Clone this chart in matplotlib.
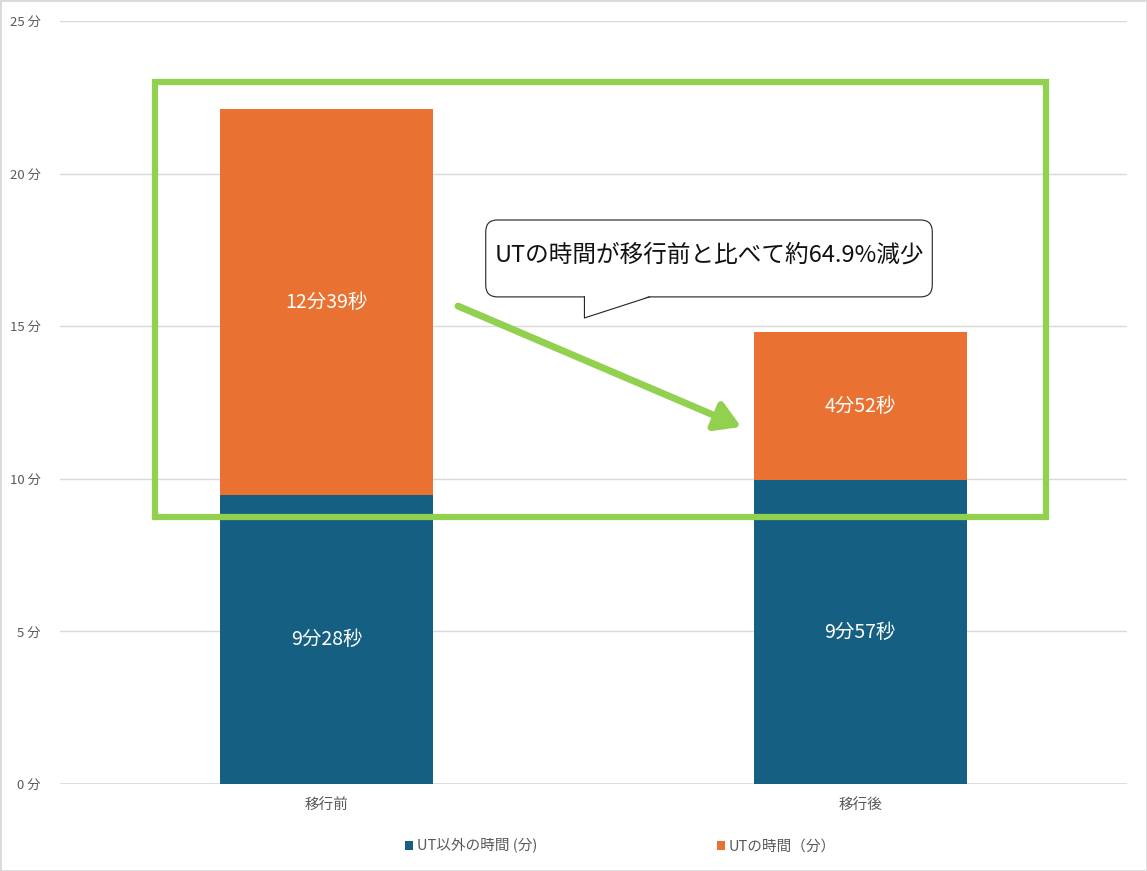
import matplotlib
matplotlib.use("Agg")
import matplotlib.pyplot as plt
from matplotlib.patches import Rectangle, FancyBboxPatch, Polygon
from matplotlib.lines import Line2D

plt.rcParams['font.family'] = ['Noto Sans CJK JP', 'DejaVu Sans']

categories = ["移行前", "移行後"]
non_ut = [9 + 28/60, 9 + 57/60]
ut = [12 + 39/60, 4 + 52/60]
non_ut_labels = ["9分28秒", "9分57秒"]
ut_labels = ["12分39秒", "4分52秒"]
yticks = [0, 5, 10, 15, 20, 25]
ytick_labels = ["0 分", "5 分", "10 分", "15 分", "20 分", "25 分"]
legend_labels = ["UT以外の時間 (分)", "UTの時間（分）"]
callout_text = "UTの時間が移行前と比べて約64.9%減少"

BLUE = "#156082"
ORANGE = "#E97132"
GREEN = "#92D050"
GRAY = "#595959"

fig = plt.figure(figsize=(11.47, 8.71), dpi=100)
ax = fig.add_axes([60/1147, 87/871, 1067/1147, 763/871])

x = list(range(len(categories)))
b1 = ax.bar(x, non_ut, width=0.4, color=BLUE, zorder=2, label=legend_labels[0])
b2 = ax.bar(x, ut, width=0.4, bottom=non_ut, color=ORANGE, zorder=2, label=legend_labels[1])

for i in x:
    ax.text(i, non_ut[i] / 2, non_ut_labels[i], ha="center", va="center",
            color="white", fontsize=14, zorder=3)
    ax.text(i, non_ut[i] + ut[i] / 2, ut_labels[i], ha="center", va="center",
            color="white", fontsize=14, zorder=3)

ax.set_xlim(-0.5, 1.5)
ax.set_ylim(0, 25)
ax.set_yticks(yticks)
ax.set_yticklabels(ytick_labels, color=GRAY, fontsize=9.5)
ax.set_xticks(x)
ax.set_xticklabels(categories, color=GRAY, fontsize=10.5)
ax.tick_params(length=0, pad=14)
ax.tick_params(axis="x", pad=10)
ax.grid(axis="y", color="#D9D9D9", linewidth=1, zorder=0)
ax.set_axisbelow(True)
for s in ax.spines.values():
    s.set_visible(False)
ax.axhline(0, color="#D9D9D9", linewidth=1.2, zorder=1)

# green highlight box
ax.add_patch(Rectangle((-0.321, 8.75), 1.348 + 0.321, 23.0 - 8.75, fill=False,
                       edgecolor=GREEN, linewidth=4.5, zorder=4, clip_on=False))

# arrow
ax.annotate("", xy=(0.777, 11.7), xytext=(0.246, 15.66),
            arrowprops=dict(arrowstyle="-|>,head_length=1.5,head_width=0.9",
                            color=GREEN, lw=5, shrinkA=0, shrinkB=0),
            zorder=5)

# callout
ax.add_patch(FancyBboxPatch((0.298, 15.96), 1.135 - 0.298, 18.48 - 15.96,
                            boxstyle="round,pad=0,rounding_size=0.022",
                            mutation_aspect=534.5/30.52,
                            facecolor="white", edgecolor="#222222", linewidth=0.8, zorder=6))
ax.add_patch(Polygon([(0.484, 15.99), (0.484, 15.27), (0.605, 15.99)], closed=True,
                     facecolor="white", edgecolor="none", zorder=7))
ax.add_line(Line2D([0.483, 0.483, 0.605], [15.96, 15.27, 15.96], color="#222222",
                   linewidth=0.8, zorder=8))
ax.text((0.298 + 1.135) / 2, (15.96 + 18.48) / 2 + 0.1, callout_text, ha="center", va="center",
        fontsize=17, color="#111111", zorder=9)

leg = fig.legend(handles=[b1, b2], labels=legend_labels, loc="center",
                 bbox_to_anchor=(0.541, 1 - 846/871), ncol=2, frameon=False,
                 fontsize=10.5, handlelength=0.55, handleheight=0.55, handletextpad=0.25,
                 columnspacing=12.3)
for t in leg.get_texts():
    t.set_color(GRAY)

fig.add_artist(Rectangle((0, 0), 1, 1, transform=fig.transFigure, fill=False,
                         edgecolor="#D9D9D9", linewidth=2))

fig.savefig("out.png", dpi=100)
